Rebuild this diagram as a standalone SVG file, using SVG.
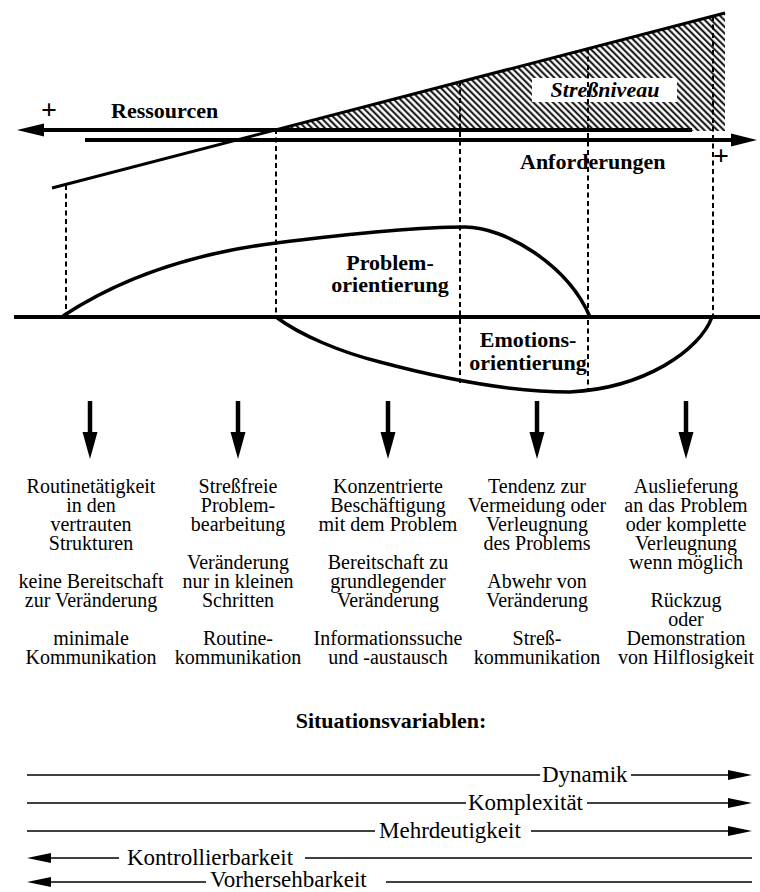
<svg xmlns="http://www.w3.org/2000/svg" width="760" height="892" viewBox="0 0 760 892">
<style>
text{font-family:"Liberation Serif","Times New Roman",serif;fill:#000}
.b{font-weight:bold;font-size:22px}
.p{font-weight:bold;font-size:28px;text-anchor:middle}
.t{font-size:20px;text-anchor:middle}
.v{font-size:23px}
.d{stroke:#000;stroke-width:2;stroke-dasharray:5,3.5;fill:none}
.c{stroke:#000;stroke-width:3.5;fill:none}
.thin{stroke:#000;stroke-width:1.6;fill:none}
.thick{stroke:#000;stroke-width:4.2;fill:none}
.sh{stroke:#000;stroke-width:4.5}
</style>
<defs>
<pattern id="hatch" width="4.6" height="4.6" patternUnits="userSpaceOnUse" patternTransform="rotate(-45)">
<line x1="1.2" y1="0" x2="1.2" y2="4.6" stroke="#000" stroke-width="1.9"/>
</pattern>
</defs>
<rect width="760" height="892" fill="#fff"/>

<g id="stress">
<polygon points="276,130 725,13 725,131" fill="url(#hatch)"/>
<rect x="532" y="78" width="145" height="24" fill="#fff"/>
<text class="b" x="605" y="97" text-anchor="middle" font-style="italic">Streßniveau</text>
</g>

<g id="connectors">
<line class="thick" x1="40" y1="130" x2="692" y2="130"/>
<polygon points="17,130 44,123.5 44,136.5" fill="#000"/>
<line class="thick" x1="85" y1="140" x2="735" y2="140"/>
<polygon points="757,140 731,133.5 731,146.5" fill="#000"/>
<line stroke="#000" stroke-width="3" x1="52" y1="188" x2="725" y2="13"/>
<line class="d" x1="66" y1="185" x2="66" y2="315"/>
<line class="d" x1="276" y1="129" x2="276" y2="316"/>
<line class="d" x1="460" y1="81" x2="460" y2="383"/>
<line class="d" x1="588" y1="48" x2="588" y2="392"/>
<line class="d" x1="713" y1="16" x2="713" y2="316"/>
<line class="thick" x1="14" y1="317" x2="760" y2="317"/>
<path class="c" d="M63,316 C110,285 180,255 276,243 C340,235 410,227 465,227 C505,227 568,265 590,317"/>
<path class="c" d="M276,317 C300,335 340,352 380,362 C440,378 510,392 570,392 C645,388 700,350 712,317"/>
<g id="down-arrows">
<line class="sh" x1="90" y1="401" x2="90" y2="435"/>
<polygon points="82.5,432 97.5,432 90,459" fill="#000"/>
<line class="sh" x1="238" y1="401" x2="238" y2="435"/>
<polygon points="230.5,432 245.5,432 238,459" fill="#000"/>
<line class="sh" x1="388" y1="401" x2="388" y2="435"/>
<polygon points="380.5,432 395.5,432 388,459" fill="#000"/>
<line class="sh" x1="537" y1="401" x2="537" y2="435"/>
<polygon points="529.5,432 544.5,432 537,459" fill="#000"/>
<line class="sh" x1="686" y1="401" x2="686" y2="435"/>
<polygon points="678.5,432 693.5,432 686,459" fill="#000"/>
</g>
<g id="variable-arrows">
<line class="thin" x1="27" y1="775" x2="540" y2="775"/>
<line class="thin" x1="631" y1="775" x2="732" y2="775"/>
<polygon points="752,775 728,770 728,780" fill="#000"/>
<line class="thin" x1="27" y1="803" x2="466" y2="803"/>
<line class="thin" x1="587" y1="803" x2="732" y2="803"/>
<polygon points="752,803 728,798 728,808" fill="#000"/>
<line class="thin" x1="27" y1="831" x2="375" y2="831"/>
<line class="thin" x1="531" y1="831" x2="732" y2="831"/>
<polygon points="752,831 728,826 728,836" fill="#000"/>
<polygon points="27,858 51,853 51,863" fill="#000"/>
<line class="thin" x1="48" y1="858" x2="119" y2="858"/>
<line class="thin" x1="305" y1="858" x2="752" y2="858"/>
<polygon points="27,882 51,877 51,887" fill="#000"/>
<line class="thin" x1="48" y1="882" x2="206" y2="882"/>
<line class="thin" x1="386" y1="882" x2="752" y2="882"/>
</g>
</g>

<g id="labels">
<text class="p" x="49" y="119">+</text>
<text class="b" x="111" y="118">Ressourcen</text>
<text class="b" x="520" y="169">Anforderungen</text>
<text class="p" x="721" y="165">+</text>
</g>

<g id="problem">
<text class="b" x="390" y="270" text-anchor="middle">Problem-</text>
<text class="b" x="390" y="292" text-anchor="middle">orientierung</text>
</g>
<g id="emotion">
<text class="b" x="528" y="347" text-anchor="middle">Emotions-</text>
<text class="b" x="528" y="370" text-anchor="middle">orientierung</text>
</g>

<g id="col1">
<text class="t" x="91" y="493">Routinetätigkeit</text>
<text class="t" x="91" y="512">in den</text>
<text class="t" x="91" y="531">vertrauten</text>
<text class="t" x="91" y="550">Strukturen</text>
<text class="t" x="91" y="588">keine Bereitschaft</text>
<text class="t" x="91" y="607">zur Veränderung</text>
<text class="t" x="91" y="645">minimale</text>
<text class="t" x="91" y="664">Kommunikation</text>
</g>
<g id="col2">
<text class="t" x="238" y="493">Streßfreie</text>
<text class="t" x="238" y="512">Problem-</text>
<text class="t" x="238" y="531">bearbeitung</text>
<text class="t" x="238" y="569">Veränderung</text>
<text class="t" x="238" y="588">nur in kleinen</text>
<text class="t" x="238" y="607">Schritten</text>
<text class="t" x="238" y="645">Routine-</text>
<text class="t" x="238" y="664">kommunikation</text>
</g>
<g id="col3">
<text class="t" x="388" y="493">Konzentrierte</text>
<text class="t" x="388" y="512">Beschäftigung</text>
<text class="t" x="388" y="531">mit dem Problem</text>
<text class="t" x="388" y="569">Bereitschaft zu</text>
<text class="t" x="388" y="588">grundlegender</text>
<text class="t" x="388" y="607">Veränderung</text>
<text class="t" x="388" y="645">Informationssuche</text>
<text class="t" x="388" y="664">und -austausch</text>
</g>
<g id="col4">
<text class="t" x="537" y="493">Tendenz zur</text>
<text class="t" x="537" y="512">Vermeidung oder</text>
<text class="t" x="537" y="531">Verleugnung</text>
<text class="t" x="537" y="550">des Problems</text>
<text class="t" x="537" y="588">Abwehr von</text>
<text class="t" x="537" y="607">Veränderung</text>
<text class="t" x="537" y="645">Streß-</text>
<text class="t" x="537" y="664">kommunikation</text>
</g>
<g id="col5">
<text class="t" x="686" y="493">Auslieferung</text>
<text class="t" x="686" y="512">an das Problem</text>
<text class="t" x="686" y="531">oder komplette</text>
<text class="t" x="686" y="550">Verleugnung</text>
<text class="t" x="686" y="569">wenn möglich</text>
<text class="t" x="686" y="607">Rückzug</text>
<text class="t" x="686" y="626">oder</text>
<text class="t" x="686" y="645">Demonstration</text>
<text class="t" x="686" y="664">von Hilflosigkeit</text>
</g>

<g id="variables">
<text class="b" x="391" y="728" text-anchor="middle">Situationsvariablen:</text>
<text class="v" x="542" y="782">Dynamik</text>
<text class="v" x="468" y="810">Komplexität</text>
<text class="v" x="379" y="838">Mehrdeutigkeit</text>
<text class="v" x="127" y="865">Kontrollierbarkeit</text>
<text class="v" x="210" y="887">Vorhersehbarkeit</text>
</g>
</svg>
